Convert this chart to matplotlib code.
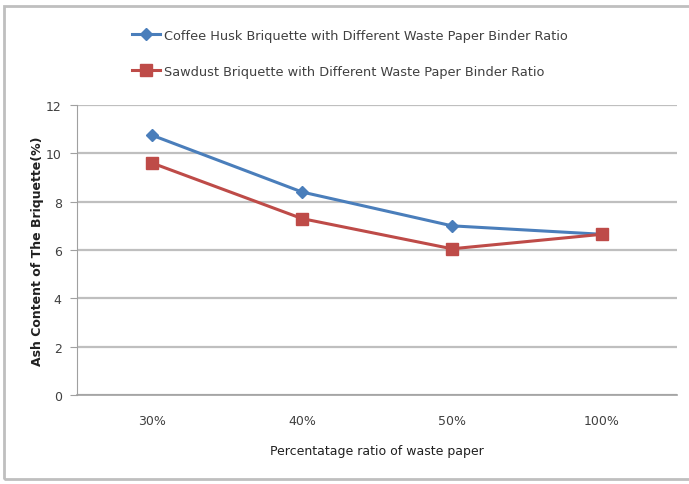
import matplotlib.pyplot as plt
import numpy as np

# Ash content of briquettes vs. waste paper binder ratio
ratios = ['30%', '40%', '50%', '100%']
coffee_husk = [10.75, 8.4, 7.0, 6.65]
sawdust = [9.6, 7.3, 6.05, 6.65]

blue = '#4A7EBB'
red = '#BE4B48'
grid_col = '#BFBFBF'
text_col = '#404040'

fig = plt.figure(figsize=(6.89, 4.85), dpi=100)
ax = fig.add_axes([77 / 689, 1 - 396 / 485, 600 / 689, 290 / 485])

x = np.arange(len(ratios))
ax.plot(x, coffee_husk, color=blue, lw=2.2, marker='D', ms=6,
        label='Coffee Husk Briquette with Different Waste Paper Binder Ratio')
ax.plot(x, sawdust, color=red, lw=2.2, marker='s', ms=8,
        label='Sawdust Briquette with Different Waste Paper Binder Ratio')

ax.set_xlim(-0.5, len(ratios) - 0.5)
ax.set_ylim(0, 12)
ax.set_yticks(range(0, 13, 2))
ax.set_xticks(x)
ax.set_xticklabels(ratios)
ax.yaxis.grid(True, color=grid_col, lw=1.6)
ax.set_axisbelow(True)

for side in ['top', 'right']:
    ax.spines[side].set_visible(False)
ax.spines['left'].set_color('#A0A0A0')
ax.spines['bottom'].set_color('#A0A0A0')
ax.spines['bottom'].set_linewidth(1.2)
ax.tick_params(axis='x', length=0, pad=14, labelsize=9, labelcolor=text_col)
ax.tick_params(axis='y', length=5, color='#A0A0A0', pad=6, labelsize=9,
               labelcolor=text_col)

ax.set_xlabel('Percentatage ratio of waste paper', fontsize=9, color='#202020',
              labelpad=12)
ax.set_ylabel('Ash Content of The Briquette(%)', fontsize=9, fontweight='bold',
              color='#202020', labelpad=1)

fig.legend(loc='upper left', bbox_to_anchor=(120 / 689, 1 - 18 / 485),
           frameon=False, fontsize=9.3, handlelength=2.2, labelspacing=1.8,
           handletextpad=0.3, labelcolor=text_col)

# outer chart border
fig.patches.append(plt.Rectangle((4 / 689, 5 / 485), 690 / 689, 473 / 485,
                                 transform=fig.transFigure, fill=False,
                                 edgecolor='#BFBFBF', lw=2))

fig.savefig('out.png', dpi=100)
